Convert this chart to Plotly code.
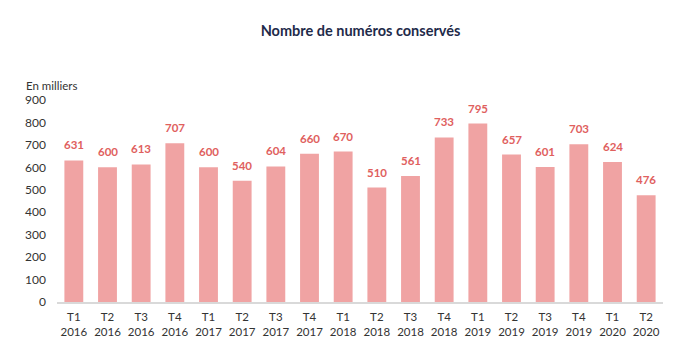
import plotly.graph_objects as go

quarters = ["T1", "T2", "T3", "T4", "T1", "T2", "T3", "T4", "T1", "T2", "T3", "T4",
            "T1", "T2", "T3", "T4", "T1", "T2"]
years = ["2016", "2016", "2016", "2016", "2017", "2017", "2017", "2017", "2018", "2018",
         "2018", "2018", "2019", "2019", "2019", "2019", "2020", "2020"]
values = [631, 600, 613, 707, 600, 540, 604, 660, 670, 510, 561, 733, 795, 657, 601, 703, 624, 476]
categories = [f"{q}<br>{y}" for q, y in zip(quarters, years)]

font_family = "Lato, 'Open Sans', sans-serif"

fig = go.Figure()
fig.add_trace(go.Bar(
    x=categories,
    y=values,
    marker=dict(color="#F0A3A3", line=dict(width=0)),
    width=0.56,
))

annotations = [dict(
    text="En milliers",
    xref="paper", yref="paper",
    x=-0.055, y=1.03,
    xanchor="left", yanchor="bottom",
    showarrow=False,
    font=dict(size=11.5, color="#333333", family=font_family),
)]
for c, v in zip(categories, values):
    annotations.append(dict(
        x=c, y=v, xref="x", yref="y",
        text=f"<b>{v}</b>",
        showarrow=False,
        yanchor="bottom",
        yshift=7,
        font=dict(size=11.5, color="#E0605E", family=font_family),
    ))

fig.update_layout(
    width=700,
    height=352,
    margin=dict(l=57, r=37, t=100, b=50),
    paper_bgcolor="white",
    plot_bgcolor="white",
    showlegend=False,
    title=dict(
        text="<b>Nombre de numéros conservés</b>",
        x=0.515,
        xanchor="center",
        y=0.912,
        yanchor="middle",
        font=dict(size=14.5, color="#1F2B4A", family=font_family),
    ),
    font=dict(family=font_family, color="#333333", size=12),
    annotations=annotations,
)

fig.update_xaxes(
    showline=True,
    linecolor="#D9D9D9",
    linewidth=1.5,
    ticks="",
    ticklabelstandoff=3,
    tickfont=dict(size=11.5, color="#333333"),
    showgrid=False,
)
fig.update_yaxes(
    range=[0, 900],
    dtick=100,
    showgrid=False,
    zeroline=False,
    ticks="",
    tickfont=dict(size=12, color="#333333"),
    ticklabelstandoff=10,
)

fig.write_html("out.html")
